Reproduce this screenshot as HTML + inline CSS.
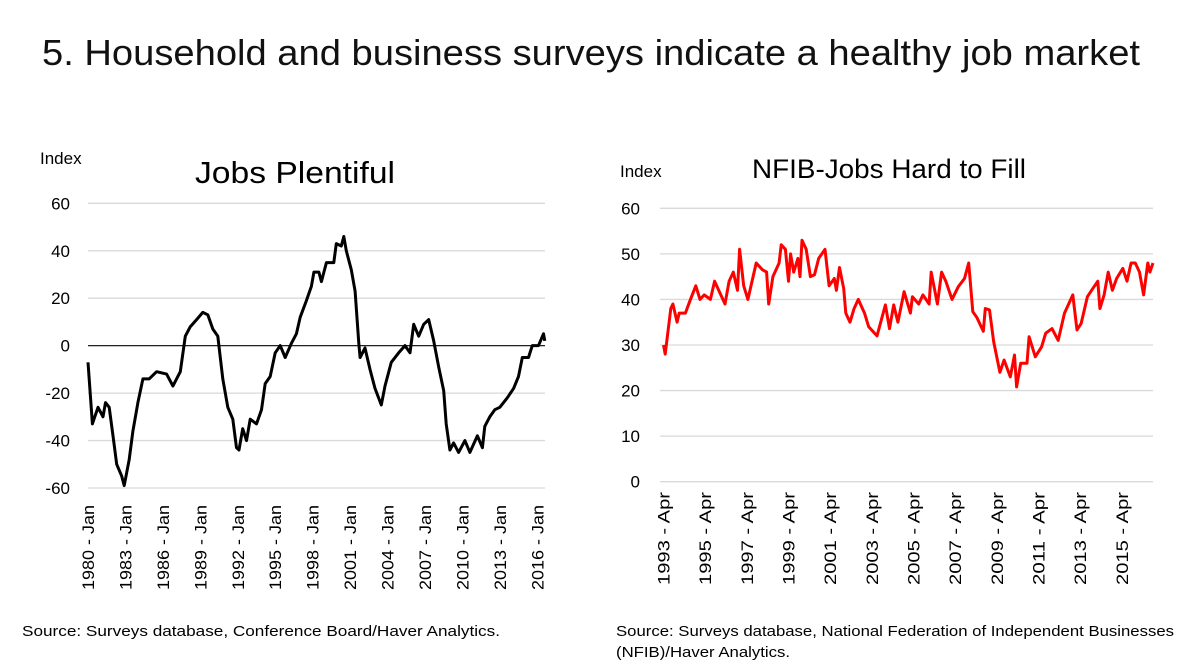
<!DOCTYPE html>
<html><head><meta charset="utf-8">
<style>
body{margin:0;background:#fff;}
svg{display:block;font-family:"Liberation Sans",sans-serif;}
</style></head>
<body>
<svg id="c" width="1183" height="664" viewBox="0 0 1183 664">
<text x="42" y="65" font-size="36" fill="#111" textLength="1098" lengthAdjust="spacingAndGlyphs">5. Household and business surveys indicate a healthy job market</text>
<text x="40" y="164" font-size="17">Index</text>
<text x="195" y="183" font-size="31" textLength="200" lengthAdjust="spacingAndGlyphs">Jobs Plentiful</text>
<text x="620" y="177" font-size="17">Index</text>
<text x="752" y="178" font-size="27" textLength="274" lengthAdjust="spacingAndGlyphs">NFIB-Jobs Hard to Fill</text>
<text x="22" y="636" font-size="15" textLength="478" lengthAdjust="spacingAndGlyphs">Source: Surveys database, Conference Board/Haver Analytics.</text>
<text x="616" y="636" font-size="15" textLength="558" lengthAdjust="spacingAndGlyphs">Source: Surveys database, National Federation of Independent Businesses</text>
<text x="616" y="657" font-size="15" textLength="174" lengthAdjust="spacingAndGlyphs">(NFIB)/Haver Analytics.</text>
<g id="left"></g>
<g id="right"></g>
</svg>
<script>
const leftTicks=[60,40,20,0,-20,-40,-60];
const leftXLabels=["1980 - Jan","1983 - Jan","1986 - Jan","1989 - Jan","1992 - Jan","1995 - Jan","1998 - Jan","2001 - Jan","2004 - Jan","2007 - Jan","2010 - Jan","2013 - Jan","2016 - Jan"];
const leftXLabelYears=[1980,1983,1986,1989,1992,1995,1998,2001,2004,2007,2010,2013,2016];
const leftDates=[1980.0,1980.35,1980.8,1981.2,1981.4,1981.7,1982.0,1982.3,1982.7,1982.9,1983.3,1983.6,1984.0,1984.4,1984.9,1985.5,1986.3,1986.8,1987.4,1987.8,1988.2,1988.7,1989.2,1989.6,1990.0,1990.4,1990.8,1991.2,1991.6,1991.9,1992.1,1992.4,1992.7,1993.0,1993.5,1993.9,1994.2,1994.6,1995.0,1995.4,1995.8,1996.3,1996.7,1997.0,1997.5,1997.9,1998.1,1998.5,1998.7,1999.1,1999.7,1999.9,2000.3,2000.5,2000.7,2001.1,2001.4,2001.7,2001.8,2002.2,2002.6,2003.0,2003.5,2003.8,2004.3,2004.9,2005.4,2005.8,2006.1,2006.5,2006.9,2007.3,2007.7,2008.1,2008.5,2008.7,2009.0,2009.3,2009.7,2010.2,2010.6,2011.2,2011.6,2011.8,2012.2,2012.6,2013.0,2013.6,2014.1,2014.5,2014.8,2015.3,2015.6,2016.1,2016.5,2016.6];
const leftValues=[-7,-33,-26,-30,-24,-26,-38,-50,-55,-59,-48,-36,-24,-14,-14,-11,-12,-17,-11,4,8,11,14,13,7,4,-14,-26,-31,-43,-44,-35,-40,-31,-33,-27,-16,-13,-3,0,-5,1,5,12,19,25,31,31,27,35,35,43,42,46,40,32,23,1,-5,-1,-10,-18,-25,-17,-7,-3,0,-3,9,4,9,11,2,-9,-19,-33,-44,-41,-45,-40,-45,-38,-43,-34,-30,-27,-26,-22,-18,-13,-5,-5,0,0,5,2];

const rightTicks=[60,50,40,30,20,10,0];
const rightXLabels=["1993 - Apr","1995 - Apr","1997 - Apr","1999 - Apr","2001 - Apr","2003 - Apr","2005 - Apr","2007 - Apr","2009 - Apr","2011 - Apr","2013 - Apr","2015 - Apr"];
const rightXLabelYears=[1993.25,1995.25,1997.25,1999.25,2001.25,2003.25,2005.25,2007.25,2009.25,2011.25,2013.25,2015.25];
const rightDates=[1993.25,1993.33,1993.6,1993.7,1993.9,1994.0,1994.3,1994.5,1994.8,1995.0,1995.2,1995.5,1995.7,1995.9,1996.2,1996.4,1996.6,1996.8,1996.9,1997.1,1997.3,1997.7,1998.0,1998.2,1998.3,1998.5,1998.8,1998.9,1999.1,1999.25,1999.35,1999.5,1999.7,1999.8,1999.9,2000.1,2000.3,2000.5,2000.7,2001.0,2001.2,2001.45,2001.55,2001.7,2001.9,2002.0,2002.2,2002.4,2002.6,2002.9,2003.1,2003.5,2003.9,2004.1,2004.3,2004.5,2004.8,2005.1,2005.2,2005.5,2005.7,2006.0,2006.1,2006.4,2006.6,2006.8,2007.1,2007.4,2007.7,2007.9,2008.1,2008.3,2008.6,2008.7,2008.9,2009.1,2009.4,2009.6,2009.9,2010.1,2010.2,2010.4,2010.7,2010.8,2011.1,2011.4,2011.6,2011.9,2012.2,2012.5,2012.9,2013.1,2013.3,2013.6,2013.8,2014.1,2014.2,2014.4,2014.6,2014.8,2015.0,2015.3,2015.5,2015.7,2015.9,2016.1,2016.3,2016.5,2016.6,2016.75];
const rightValues=[30,28,38,39,35,37,37,39.5,43,40,41,40,44,42,39,44,46,42,51,43,40,48,46.5,46,39,45,48,52,51,44,50,46,49,45,53,51,45,45.4,49,51,43,44.6,42,47,42.4,37,35,38,40,37,34,32,38.8,33.6,38.8,35,41.7,37,40.6,39,41,39,46,39,46,44,40,42.8,44.6,48,37.3,36,33,38,37.7,30.7,24,26.7,23,27.8,20.8,26,26,31.8,27.4,29.6,32.6,33.6,31,37,41,33.3,34.7,40.6,42,44,38,41,46,42,44.6,46.8,44,48,48,46,41,48,46,48];

const NS="http://www.w3.org/2000/svg";
function mk(tag,attrs,parent){const e=document.createElementNS(NS,tag);for(const k in attrs)e.setAttribute(k,attrs[k]);parent.appendChild(e);return e;}

function drawChart(g,cfg){
  const xS=d=>cfg.x0+(d-cfg.d0)/(cfg.d1-cfg.d0)*(cfg.x1-cfg.x0);
  const yS=v=>cfg.yTop+(cfg.vMax-v)/(cfg.vMax-cfg.vMin)*(cfg.yBot-cfg.yTop);
  cfg.ticks.forEach(t=>{
    const l=mk('line',{x1:cfg.x0,x2:cfg.x1,y1:yS(t),y2:yS(t),stroke:'#d9d9d9','stroke-width':1.3},g);
    
    
    const tx=mk('text',{x:cfg.labX,y:yS(t)+6,'font-size':17,'text-anchor':'end'},g);
    tx.textContent=t;
    
    
  });
  if(cfg.zeroLine){
    const z=mk('line',{x1:cfg.x0,x2:cfg.x1,y1:yS(0),y2:yS(0),stroke:'#222','stroke-width':1.3},g);
    
    
  }
  cfg.xl.forEach((s,i)=>{
    const x=xS(cfg.xly[i]);
    const tx=mk('text',{x:0,y:0,'font-size':17,'text-anchor':'end',textLength:cfg.labLen,lengthAdjust:'spacingAndGlyphs',transform:`translate(${x+6},${cfg.labY}) rotate(-90)`},g);
    tx.textContent=s;
    
    
  });
  const pts=cfg.dates.map((d,i)=>xS(d).toFixed(1)+','+yS(cfg.vals[i]).toFixed(1)).join(' ');
  const p=mk('polyline',{points:pts,fill:'none',stroke:cfg.color,'stroke-width':3,'stroke-linejoin':'round'},g);
  
  
}
drawChart(document.getElementById('left'),{x0:88,x1:545,d0:1980,d1:2016.62,yTop:203.3,yBot:488,vMax:60,vMin:-60,ticks:leftTicks,labX:70,labY:505,labLen:85,zeroLine:true,xl:leftXLabels,xly:leftXLabelYears,dates:leftDates,vals:leftValues,color:'#000'});
drawChart(document.getElementById('right'),{x0:660,x1:1153,d0:1993.08,d1:2016.75,yTop:208.3,yBot:481.7,vMax:60,vMin:0,ticks:rightTicks,labX:640,labY:492,labLen:93,zeroLine:false,xl:rightXLabels,xly:rightXLabelYears,dates:rightDates,vals:rightValues,color:'#ff0000'});
</script>
</body></html>
